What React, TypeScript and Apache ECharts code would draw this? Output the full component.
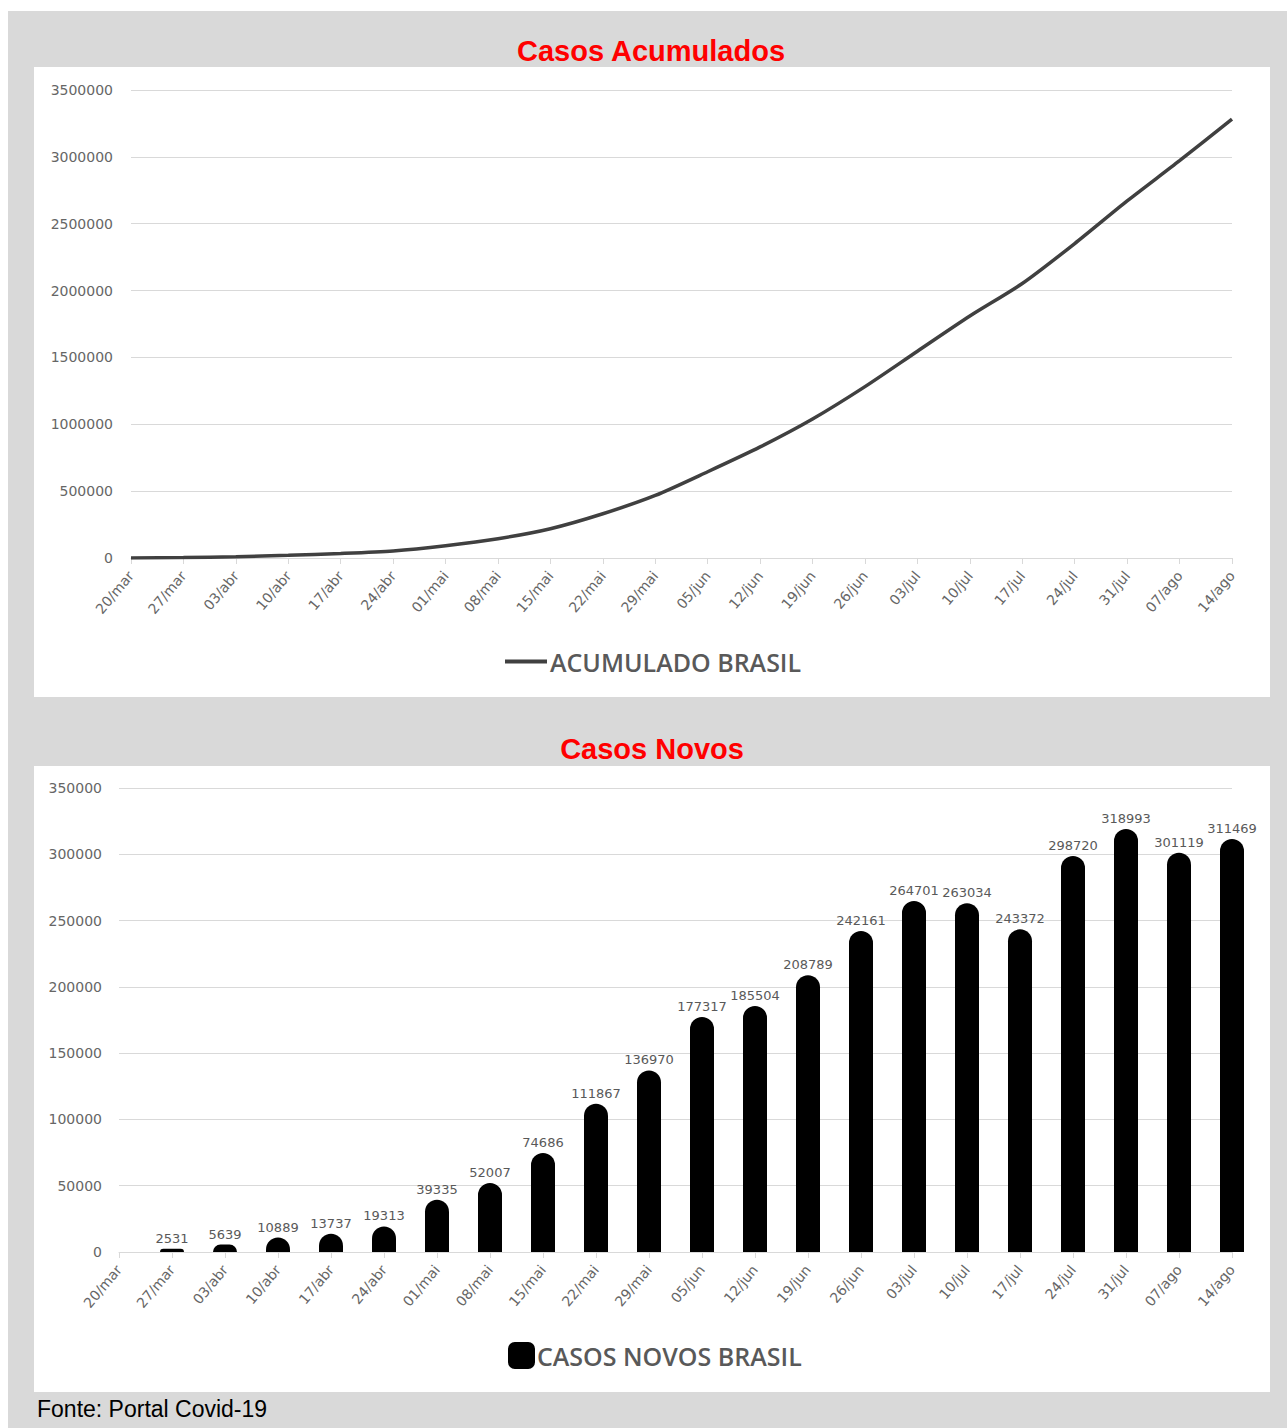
import React, { useEffect, useRef } from "react";
import * as echarts from "echarts";

const weeks = [
  "20/mar", "27/mar", "03/abr", "10/abr", "17/abr", "24/abr", "01/mai", "08/mai",
  "15/mai", "22/mai", "29/mai", "05/jun", "12/jun", "19/jun", "26/jun", "03/jul",
  "10/jul", "17/jul", "24/jul", "31/jul", "07/ago", "14/ago",
];

const accumulatedBrasil = [
  904, 3435, 9074, 19963, 33700, 53013, 92348, 144355, 219041, 330908, 467878,
  645195, 830699, 1039488, 1281649, 1546350, 1809384, 2052756, 2351476, 2670469,
  2971588, 3283057,
];

const newCasesBrasil: (number | string)[] = [
  "-", 2531, 5639, 10889, 13737, 19313, 39335, 52007, 74686, 111867, 136970,
  177317, 185504, 208789, 242161, 264701, 263034, 243372, 298720, 318993, 301119,
  311469,
];

const titleTop = "Casos Acumulados";
const titleBottom = "Casos Novos";
const lineName = "ACUMULADO BRASIL";
const barName = "CASOS NOVOS BRASIL";
const source = "Fonte: Portal Covid-19";

const tickFont = "'DejaVu Sans', sans-serif";
const gray = "#595959";
const tickGray = "#666666";
const gridGray = "#d9d9d9";

export default function App() {
  const ref = useRef<HTMLDivElement>(null);
  useEffect(() => {
    if (!ref.current) return;
    const chart = echarts.init(ref.current, null, { renderer: "svg" });
    const xAxisCommon = {
      type: "category",
      data: weeks,
      boundaryGap: false,
      axisLine: { show: true, lineStyle: { color: gridGray, width: 1 } },
      axisTick: { show: true, length: 6, lineStyle: { color: gridGray } },
      axisLabel: {
        rotate: 50,
        interval: 0,
        margin: 15,
        color: tickGray,
        fontFamily: tickFont,
        fontSize: 14,
      },
    };
    const plain = (v: number) => String(v);
    chart.setOption({
      animation: false,
      backgroundColor: "#ffffff",
      graphic: [
        { type: "rect", z: -10, shape: { x: 8, y: 11, width: 1279, height: 1417 }, style: { fill: "#d9d9d9" } },
        { type: "rect", z: -9, shape: { x: 34, y: 67, width: 1236, height: 630 }, style: { fill: "#ffffff" } },
        { type: "rect", z: -9, shape: { x: 34, y: 766, width: 1236, height: 626 }, style: { fill: "#ffffff" } },
        {
          type: "text",
          x: 37,
          y: 1409,
          style: {
            text: source,
            fill: "#000000",
            font: "23px 'Liberation Sans', Arial, sans-serif",
            textVerticalAlign: "middle",
            verticalAlign: "middle",
          },
        },
      ],
      title: [
        {
          text: titleTop,
          left: 651,
          top: 36,
          textAlign: "center",
          padding: 0,
          textStyle: { color: "#ff0000", fontSize: 29, fontWeight: "bold", fontFamily: "'Liberation Sans', Arial, sans-serif" },
        },
        {
          text: titleBottom,
          left: 652,
          top: 734,
          textAlign: "center",
          padding: 0,
          textStyle: { color: "#ff0000", fontSize: 29, fontWeight: "bold", fontFamily: "'Liberation Sans', Arial, sans-serif" },
        },
      ],
      legend: [
        {
          data: [lineName],
          left: 505,
          top: 649,
          padding: 0,
          selectedMode: false,
          icon: "rect",
          itemWidth: 42,
          itemHeight: 4,
          textStyle: { color: gray, fontSize: 25, fontWeight: 600, fontFamily: "'Open Sans', sans-serif", padding: [0, 0, 0, -2] },
        },
        {
          data: [barName],
          left: 508,
          top: 1342,
          padding: 0,
          selectedMode: false,
          icon: "roundRect",
          itemWidth: 27,
          itemHeight: 27,
          textStyle: { color: gray, fontSize: 25, fontWeight: 600, fontFamily: "'Open Sans', sans-serif", padding: [0, 0, 0, -3] },
        },
      ],
      grid: [
        { left: 131, right: 55, top: 90, height: 468 },
        { left: 119, right: 55, top: 788, height: 464 },
      ],
      xAxis: [
        { ...xAxisCommon, gridIndex: 0 },
        { ...xAxisCommon, gridIndex: 1 },
      ],
      yAxis: [
        {
          type: "value",
          gridIndex: 0,
          min: 0,
          max: 3500000,
          interval: 500000,
          axisLine: { show: false },
          axisTick: { show: false },
          splitLine: { lineStyle: { color: gridGray, width: 1 } },
          axisLabel: { margin: 18, color: tickGray, fontFamily: tickFont, fontSize: 14, formatter: plain },
        },
        {
          type: "value",
          gridIndex: 1,
          min: 0,
          max: 350000,
          interval: 50000,
          axisLine: { show: false },
          axisTick: { show: false },
          splitLine: { lineStyle: { color: gridGray, width: 1 } },
          axisLabel: { margin: 17, color: tickGray, fontFamily: tickFont, fontSize: 14, formatter: plain },
        },
      ],
      series: [
        {
          name: lineName,
          type: "line",
          xAxisIndex: 0,
          yAxisIndex: 0,
          data: accumulatedBrasil,
          smooth: 0.25,
          showSymbol: false,
          symbol: "none",
          lineStyle: { color: "#404040", width: 3.5 },
          itemStyle: { color: "#404040" },
        },
        {
          name: barName,
          type: "bar",
          xAxisIndex: 1,
          yAxisIndex: 1,
          data: newCasesBrasil,
          barWidth: 24,
          clip: false,
          itemStyle: { color: "#000000", borderRadius: [12, 12, 0, 0] },
          label: {
            show: true,
            position: "top",
            distance: 4,
            color: gray,
            fontFamily: tickFont,
            fontSize: 13,
          },
        },
      ],
    });
    return () => chart.dispose();
  }, []);
  return (
    <div
      ref={ref}
      style={{ position: "absolute", left: 0, top: 0, width: 1287, height: 1428 }}
    />
  );
}
